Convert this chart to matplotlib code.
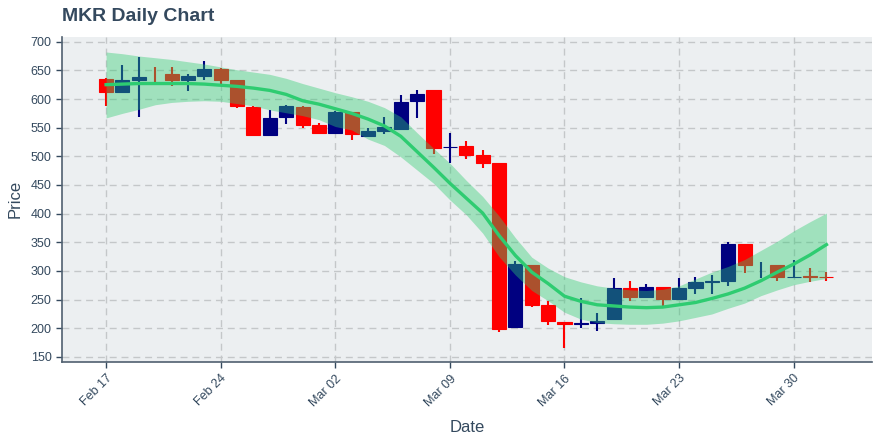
import numpy as np
import pandas as pd
import matplotlib
matplotlib.use('Agg')
import matplotlib.pyplot as plt
import matplotlib.dates as mdates

plt.rcParams['font.family'] = ['Liberation Sans', 'DejaVu Sans']

# daily candles, Feb 17 - Apr 1 2020
dates = pd.date_range('2020-02-17', '2020-04-01', freq='D')
opens = [635, 612, 634, 637.3, 644, 633, 641, 653, 634, 586, 538, 568, 586, 555, 540,
         578, 536, 545, 548, 596, 616, 516, 518, 503, 489, 202, 311, 241, 211, 208,
         210, 216, 270, 255, 272, 251, 271, 281, 283, 347, 301, 311, 289, 291, 290]
highs = [636, 660, 673, 656, 655, 643, 667, 654, 634, 587, 580, 590, 587, 559, 579,
         578, 549, 568, 607, 616, 616, 541, 527, 511, 489, 318, 311, 248, 211, 253,
         227, 288, 283, 277, 272, 288, 290, 293, 350, 347, 315, 311, 319, 306, 298]
lows = [587, 611, 568, 629, 622, 614, 634, 625, 585, 535, 538, 556, 549, 540, 540,
        529, 536, 539, 548, 567, 504, 489, 496, 479, 193, 202, 238, 205, 166, 201,
        196, 216, 248, 253, 239, 251, 259, 260, 274, 296, 287, 283, 289, 281, 283]
closes = [612, 634, 639, 637, 633, 641, 653, 634, 587, 538, 567, 587, 555, 540, 578,
          539, 545, 552, 595, 609, 515, 517, 503, 489, 198, 312, 241, 212, 208, 210,
          212, 270, 255, 272, 251, 270, 281, 282, 347, 311, 301.3, 289, 290, 290, 289]

# trend line and its band
trend = [625, 626, 627, 627, 627, 627, 626, 624, 622, 619, 615, 608, 597, 591, 583,
         575, 565, 553, 535, 508, 481, 453, 427, 401, 362, 327, 298, 278, 256, 247,
         241, 239, 237, 236, 237, 241, 245, 252, 260, 270, 283, 298, 312, 328, 346]
band_hi = [682, 679, 675, 672, 669, 665, 661, 656, 651, 647, 643, 636, 627, 619, 611,
           604, 596, 585, 569, 541, 514, 488, 458, 430, 396, 358, 324, 305, 290, 281,
           274, 270, 267, 266, 268, 274, 286, 298, 308, 320, 336, 352, 370, 386, 401]
band_lo = [567, 575, 582, 590, 594, 596, 597, 596, 592, 588, 581, 576, 571, 564, 552,
           546, 530, 519, 499, 476, 453, 424, 398, 366, 325, 293, 266, 248, 228, 216,
           210, 208, 207, 207, 209, 213, 219, 225, 235, 244, 257, 267, 276, 282, 287]

x = mdates.date2num(dates)
o = np.array(opens); h = np.array(highs); l = np.array(lows); c = np.array(closes)
up = c > o
cols = np.where(up, '#000080', '#ff0000')

fig = plt.figure(figsize=(8.8, 4.4), dpi=100)
ax = fig.add_axes([0.0705, 0.177, 0.92, 0.74])
ax.set_facecolor('#eceff1')

ax.vlines(x, l, h, colors=cols, linewidth=1.5, zorder=2)
body = np.abs(c - o) >= 0.5
ax.bar(x[body], np.abs(c - o)[body], bottom=np.minimum(o, c)[body], width=0.86,
       color=cols[body], edgecolor=cols[body], linewidth=0.8, zorder=3)

ax.fill_between(x, band_lo, band_hi, color='#2ecc71', alpha=0.4, linewidth=0, zorder=4)
ax.plot(x, trend, color='#2ecc71', linewidth=2.4, zorder=5)

ax.set_xlim(x[0] - 2.69, x[0] + 46.76)
ax.set_ylim(141, 709)
ax.set_yticks(np.arange(150, 701, 50))
ticks = pd.date_range('2020-02-17', '2020-03-30', freq='7D')
ax.set_xticks(mdates.date2num(ticks))
ax.set_xticklabels([d.strftime('%b %d') for d in ticks], rotation=45, ha='right',
                   va='top', rotation_mode='anchor')

ax.grid(True, color='#c4c7c9', linestyle=(0, (5, 3.5)), linewidth=1.0, zorder=0)
ax.set_axisbelow(True)
for s in ['top', 'right']:
    ax.spines[s].set_visible(False)
for s in ['left', 'bottom']:
    ax.spines[s].set_color('#506070')
    ax.spines[s].set_linewidth(1.2)
ax.tick_params(colors='#34495e', labelsize=9, length=4, width=1)

ax.set_xlabel('Date', fontsize=12, color='#34495e', labelpad=8)
ax.set_ylabel('Price', fontsize=12, color='#34495e', labelpad=6)
fig.text(0.0705, 0.962, 'MKR Daily Chart', fontsize=14, fontweight='bold',
         color='#34495e', va='center', ha='left')

fig.savefig('out.png', dpi=100)
